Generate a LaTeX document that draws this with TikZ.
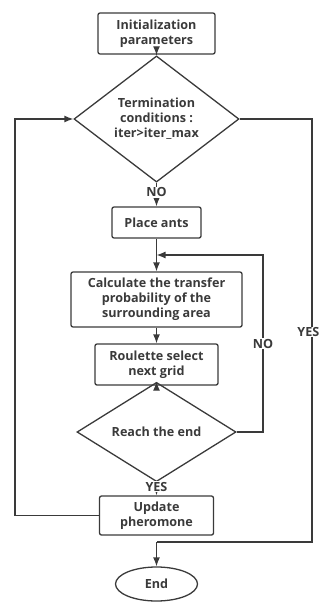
\documentclass[tikz,border=0pt]{standalone}
\usepackage{fontspec}
\setmainfont{Open Sans}
\usepackage{xcolor}
\usetikzlibrary{shapes.geometric,arrows,arrows.meta,positioning,calc}
\definecolor{flowgray}{HTML}{3A3A3A}
\tikzset{
  process/.style={draw=flowgray, line width=1.3pt, rounded corners=2pt, align=center, inner sep=0pt, text=flowgray, font=\fontsize{12.6}{15}\selectfont\bfseries},
  decision/.style={diamond, draw=flowgray, line width=1.3pt, align=center, inner sep=0pt, text=flowgray, font=\fontsize{12.6}{15}\selectfont\bfseries},
  terminal/.style={ellipse, draw=flowgray, line width=1.3pt, inner sep=0pt, text=flowgray, font=\fontsize{12.6}{15}\selectfont\bfseries},
  flow/.style={draw=flowgray, line width=1.3pt, -{Latex[length=9pt,width=7pt]}},
  edge/.style={draw=flowgray, line width=1.3pt},
  tag/.style={fill=white, inner sep=1pt, text=flowgray, font=\fontsize{12.6}{15}\selectfont\bfseries}
}
\begin{document}
\begin{tikzpicture}[x=1pt,y=-1pt]
	\useasboundingbox (0,0) rectangle (320,602);
	% boxes
	\node[process, minimum width=117pt, minimum height=41pt] (init) at (156.5,33.5) {Initialization\\parameters};
	\node[decision, minimum width=165pt, minimum height=94pt] (term) at (156.5,119) {Termination\\conditions :\\iter>iter\_max};
	\node[process, minimum width=89pt, minimum height=31pt] (ants) at (156.5,222.5) {Place ants};
	\node[process, minimum width=171pt, minimum height=55pt] (calc) at (156.5,299.5) {Calculate the transfer\\probability of the\\surrounding area};
	\node[process, minimum width=123pt, minimum height=41pt] (roul) at (156.5,364.5) {Roulette select\\next grid};
	\node[decision, minimum width=159pt, minimum height=60pt] (reach) at (156.5,432) {Reach the end};
	\node[process, minimum width=114pt, minimum height=39pt] (upd) at (156.5,515.5) {Update\\pheromone};
	\node[terminal, minimum width=82pt, minimum height=34pt] (end) at (156.5,584) {End};
	% helper points
	\coordinate (join) at (156.5,255);
	\coordinate (merge) at (156.5,542);
	% connectors
	\draw[flow] (init) -- (term);
	\draw[flow] (term) -- node[tag, pos=0.4] {NO} (ants);
	\draw[edge] (ants) -- (join);
	\draw[flow] (join) -- (calc);
	\draw[flow] (calc) -- (roul);
	\draw[flow] (roul) -- (reach);
	\draw[flow] (reach) -- node[tag, pos=0.33] {YES} (upd);
	\draw[flow] (reach.east) -- (263,432) -- node[tag] {NO} (263,255) -- (join);
	\draw[flow] (upd.west) -- (15,515.5) -- (15,119) -- (term.west);
	\draw[edge] (term.east) -- (312,119) -- (312,542) -- (merge);
	\node[tag, anchor=east, inner sep=0.5pt] (yes) at (320,332) {YES};
	\draw[flow] (merge) -- (end);
\end{tikzpicture}
\end{document}
